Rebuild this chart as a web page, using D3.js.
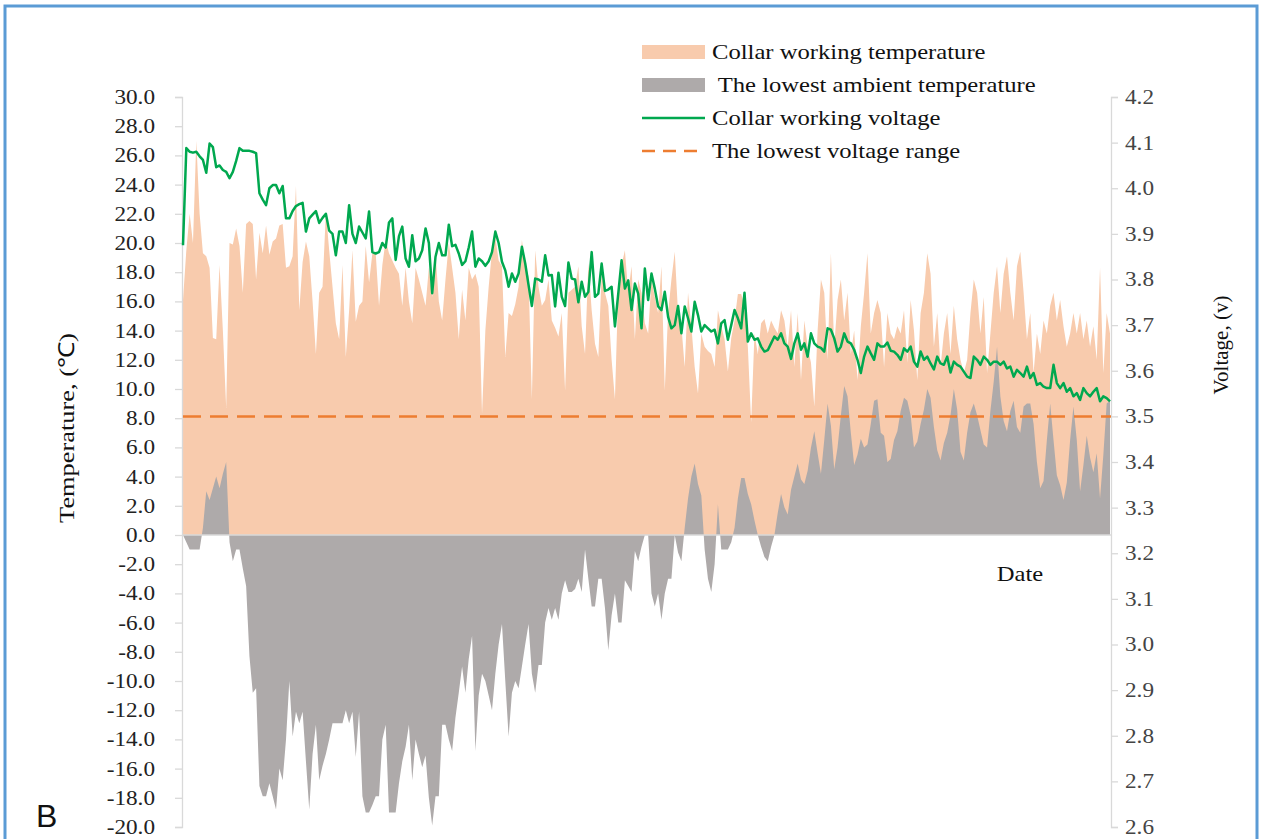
<!DOCTYPE html>
<html><head><meta charset="utf-8">
<script src="https://cdn.jsdelivr.net/npm/d3@7"></script>
<style>body{margin:0;background:#fff}svg{display:block}</style>
</head><body>
<svg id="c" width="1262" height="839"></svg>
<script>
const collarTemp = [16.1,19.5,22.0,20.0,27.0,22.0,19.3,19.1,18.3,13.5,13.4,18.5,14.0,8.7,20.0,19.9,21.0,19.8,16.6,21.3,
21.5,21.3,17.5,20.7,19.3,21.2,19.2,20.1,20.3,21.2,21.3,18.3,18.4,19.1,23.9,15.4,18.7,20.1,19.1,16.0,
12.4,16.6,17.0,22.1,19.5,17.0,14.5,13.4,18.5,12.2,15.4,19.5,14.6,15.7,16.0,19.8,17.3,19.3,19.3,15.7,
18.5,20.2,19.3,18.8,18.3,17.9,15.7,18.3,16.0,14.5,18.3,17.5,16.6,15.7,18.3,16.3,19.3,16.0,14.7,17.5,
20.0,18.3,16.6,13.4,16.8,14.7,18.3,17.5,17.9,17.0,8.3,14.0,17.0,19.5,20.4,18.8,18.4,12.2,15.2,15.0,
15.8,17.0,20.2,18.5,17.7,9.3,19.5,17.0,15.7,16.1,17.5,14.7,14.2,13.6,15.2,9.9,16.6,16.8,17.0,18.4,
14.3,12.4,18.6,15.4,13.1,12.2,17.9,16.6,15.7,12.0,9.3,17.0,18.5,19.5,16.6,18.4,13.4,17.5,16.6,14.5,
13.8,17.5,16.3,15.2,18.4,9.9,15.2,17.5,19.4,15.2,14.3,11.5,16.6,14.3,11.5,9.7,13.8,12.9,12.6,12.4,
11.5,15.4,14.3,13.4,11.2,13.5,14.7,16.5,16.5,15.7,12.9,7.7,13.8,12.4,14.5,14.8,13.8,14.7,14.2,13.8,
15.4,14.7,12.9,15.4,11.5,15.2,10.6,14.7,12.9,11.8,8.8,14.0,17.5,16.6,12.0,19.3,12.9,16.1,17.5,14.7,
16.6,12.4,14.0,10.6,14.3,16.6,19.3,13.8,15.2,16.1,15.2,11.5,15.2,13.8,13.4,14.3,13.8,15.4,11.8,16.1,
14.0,10.6,15.2,16.6,19.3,17.9,12.9,15.2,11.5,13.8,15.2,12.4,15.7,13.4,12.0,11.1,12.0,15.2,17.5,16.6,
13.8,16.3,11.1,13.8,16.6,18.4,15.2,17.9,19.1,16.6,14.7,18.4,19.4,16.6,13.4,15.2,11.1,13.8,12.4,14.7,
13.8,15.7,16.6,14.7,16.1,14.3,12.9,13.8,15.2,13.8,15.2,13.4,14.7,12.9,14.3,12.0,18.3,11.1,15.2,13.8];

const ambientTemp = [0,-0.5,-1,-1,-1,-1,0.5,3.0,2.4,3.2,4.0,3.2,4.2,5.0,-0.5,-1.8,-1,-1,-2.3,-3.5,
-8.3,-10.8,-10.5,-17.2,-17.9,-17.9,-17,-17.9,-18.8,-16,-16.8,-14,-10,-13.8,-12.1,-12.9,-12.1,-15.5,-18.8,-15,
-13,-16.8,-15.8,-15,-14,-12.9,-12.9,-12.9,-12.9,-12,-12.9,-12.1,-15.2,-12.1,-17.9,-19,-19,-18.5,-17.9,-17.9,
-14,-13,-19,-19,-19,-17,-15.5,-14.5,-13,-16.8,-14,-15,-15.9,-15.1,-18,-19.9,-17.9,-17.9,-13,-13,
-14,-14.8,-12.5,-10.8,-9,-10.8,-8.5,-6.9,-14.8,-11,-9.5,-10,-11,-12,-9.5,-7.5,-6.1,-10,-13.8,-10.8,
-10,-10.5,-9,-7.5,-6.1,-9.5,-10.8,-8.9,-8.9,-6,-5,-5.8,-5,-5.8,-4,-3.1,-3.9,-3.9,-3.7,-3,
-3.9,-1,-3,-4.9,-4.9,-3,-3,-5,-7.9,-5.5,-4,-6,-6,-3.1,-3.5,-3.9,-1.1,-1.8,-0.8,0,
0,-4,-4.9,-4,-5.8,-4,-3,-3,0,-1.2,-1.8,0.5,2.5,4.0,4.9,3.5,2.7,-1,-3,-3.9,
-2,2.1,-1,-1,-1,-0.5,0.5,2.5,3.9,3.9,2.8,2.1,1.0,0,-0.8,-1.5,-1.8,-0.8,0,1.5,
2.8,1.9,1.4,3.1,4.0,4.9,3.8,3.5,4.4,6,7.1,5.6,4.2,6.5,9.0,7.5,4.5,6.0,8.2,10.2,
9.5,7.0,4.8,5.5,6.6,6.0,6.2,7.6,9.2,9.3,7.0,6.8,5.0,5.2,6.5,7.1,8.5,9.4,9.2,8.2,
6.0,6.4,7.6,8.6,10.0,9.4,7.4,5.8,5.1,6.3,7.0,8.2,10.0,8.6,5.7,5.1,7.0,8.4,9.0,8.2,
7.2,6.2,6.0,8.5,10.5,12.9,9.5,7.8,7.1,8.5,9.2,7.4,7.0,8.8,9.0,9.0,7.6,5.0,3.2,3.7,
6.5,9.0,6.5,4.1,3.4,2.4,3.6,6.5,8.8,6.5,3.0,4.8,6.8,5.3,4.3,5.6,2.5,5.5,9.0,9.2];

const voltage = [3.875,4.088,4.08,4.078,4.08,4.07,4.062,4.034,4.098,4.09,4.046,4.05,4.04,4.036,4.022,4.036,4.06,4.088,4.082,4.082,
4.082,4.08,4.077,3.989,3.975,3.963,4.0,4.007,4.007,3.989,4.005,3.934,3.934,3.95,3.961,3.965,3.968,3.905,3.934,3.942,
3.95,3.924,3.935,3.944,3.907,3.9,3.853,3.905,3.905,3.88,3.963,3.9,3.88,3.916,3.903,3.89,3.949,3.86,3.857,3.86,
3.88,3.87,3.925,3.934,3.843,3.895,3.916,3.846,3.828,3.897,3.84,3.846,3.864,3.912,3.88,3.77,3.85,3.88,3.853,3.853,
3.92,3.873,3.876,3.857,3.832,3.84,3.87,3.905,3.828,3.846,3.84,3.83,3.84,3.86,3.905,3.88,3.839,3.82,3.784,3.813,
3.795,3.813,3.872,3.835,3.788,3.742,3.802,3.8,3.795,3.853,3.809,3.81,3.741,3.815,3.762,3.742,3.837,3.802,3.8,3.75,
3.795,3.762,3.773,3.86,3.762,3.769,3.835,3.775,3.778,3.784,3.697,3.769,3.842,3.78,3.798,3.733,3.791,3.769,3.693,3.824,
3.755,3.813,3.78,3.741,3.733,3.773,3.718,3.693,3.7,3.742,3.682,3.741,3.715,3.686,3.751,3.722,3.686,3.7,3.693,3.686,
3.69,3.66,3.704,3.711,3.668,3.7,3.733,3.715,3.693,3.771,3.664,3.682,3.668,3.671,3.653,3.642,3.645,3.66,3.675,3.668,
3.682,3.66,3.653,3.626,3.66,3.682,3.646,3.66,3.631,3.682,3.66,3.653,3.65,3.642,3.693,3.69,3.671,3.642,3.653,3.682,
3.664,3.66,3.646,3.624,3.595,3.631,3.653,3.638,3.624,3.66,3.653,3.653,3.662,3.644,3.642,3.635,3.624,3.649,3.642,3.653,
3.62,3.609,3.642,3.624,3.631,3.616,3.603,3.631,3.616,3.613,3.631,3.596,3.62,3.613,3.609,3.598,3.587,3.584,3.631,3.624,
3.613,3.631,3.624,3.613,3.62,3.62,3.613,3.62,3.605,3.609,3.587,3.602,3.595,3.587,3.609,3.584,3.595,3.569,3.573,3.565,
3.562,3.562,3.613,3.573,3.562,3.573,3.554,3.562,3.544,3.551,3.536,3.562,3.551,3.544,3.554,3.562,3.533,3.544,3.54,3.533];

const lowestVoltage = 3.5;
const tempTicks = d3.range(-20, 30.001, 2);
const voltTicks = d3.range(2.6, 4.2001, 0.1);
const legendItems = ["Collar working temperature", " The lowest ambient temperature", "Collar working voltage", "The lowest voltage range"];

const svg = d3.select("#c");
const L = 183, R = 1111, T = 97, B = 827;
const N = collarTemp.length;
const x = d3.scaleLinear().domain([0, N - 1]).range([L, R - 1]);
const yT = d3.scaleLinear().domain([-20, 30]).range([B, T]);
const yV = d3.scaleLinear().domain([2.6, 4.2]).range([B, T]);
const serif = "'Liberation Serif','Times New Roman',serif";
const stretch = (sx, ax) => `translate(${ax},0) scale(${sx},1) translate(${-ax},0)`;

// frame
svg.append("rect").attr("x", 5).attr("y", 6).attr("width", 1252).attr("height", 845)
  .attr("fill", "none").attr("stroke", "#5b9bd5").attr("stroke-width", 3);

const idx = d3.range(N);
svg.append("path").datum(idx)
  .attr("d", d3.area().x(i => x(i)).y0(yT(0)).y1(i => yT(collarTemp[i])))
  .attr("fill", "#f8cbad");
svg.append("path").datum(idx)
  .attr("d", d3.area().x(i => x(i)).y0(yT(0)).y1(i => yT(ambientTemp[i])))
  .attr("fill", "#aeaaaa");

// axes
const gL = svg.append("g").attr("transform", `translate(${L - 1},0)`)
  .call(d3.axisLeft(yT).tickValues(tempTicks).tickFormat(d => d.toFixed(1)).tickSize(7).tickPadding(20));
const gR = svg.append("g").attr("transform", `translate(${R},0)`)
  .call(d3.axisRight(yV).tickValues(voltTicks).tickFormat(d => d.toFixed(1)).tickSize(7).tickPadding(7));
[gL, gR].forEach(g => {
  g.selectAll("path.domain").attr("stroke", "#d9d9d9").attr("stroke-width", 1.3);
  g.selectAll(".tick line").attr("stroke", "#d9d9d9").attr("stroke-width", 1.3);
  g.selectAll("text").attr("font-family", serif).attr("font-size", 20).attr("fill", "#222");
});
gL.selectAll(".tick text").attr("transform", stretch(1.16, -27));
gR.selectAll(".tick text").attr("fill", "#444").attr("transform", stretch(1.16, 14));

svg.append("line").attr("x1", L).attr("x2", R).attr("y1", yT(0)).attr("y2", yT(0))
  .attr("stroke", "#d9d9d9").attr("stroke-width", 1.3);

svg.append("line").attr("x1", L).attr("x2", R).attr("y1", yV(lowestVoltage)).attr("y2", yV(lowestVoltage))
  .attr("stroke", "#ed7d31").attr("stroke-width", 2.5).attr("stroke-dasharray", "18,9");

svg.append("path").datum(idx)
  .attr("d", d3.line().x(i => x(i)).y(i => yV(voltage[i])))
  .attr("fill", "none").attr("stroke", "#00a84f").attr("stroke-width", 2.5).attr("stroke-linejoin", "round");

// legend
const lg = svg.append("g");
const ly = [52, 85, 118, 151];
lg.append("rect").attr("x", 642).attr("y", ly[0] - 7).attr("width", 63).attr("height", 14).attr("fill", "#f8cbad");
lg.append("rect").attr("x", 642).attr("y", ly[1] - 7).attr("width", 63).attr("height", 14).attr("fill", "#aeaaaa");
lg.append("line").attr("x1", 642).attr("x2", 705).attr("y1", ly[2]).attr("y2", ly[2]).attr("stroke", "#00a84f").attr("stroke-width", 2.5);
lg.append("line").attr("x1", 642).attr("x2", 705).attr("y1", ly[3]).attr("y2", ly[3]).attr("stroke", "#ed7d31").attr("stroke-width", 2.5).attr("stroke-dasharray", "13,8");
legendItems.forEach((t, k) => {
  lg.append("text").attr("x", 712).attr("y", ly[k] + 7).text(t)
    .attr("transform", stretch(1.12, 712))
    .attr("font-family", serif).attr("font-size", 22).attr("fill", "#111").style("white-space", "pre");
});

// axis titles
svg.append("text").attr("transform", "translate(74,428) rotate(-90) scale(1.2,1)").attr("text-anchor", "middle")
  .attr("font-family", serif).attr("font-size", 22).attr("fill", "#111").text("Temperature, (℃)");
svg.append("text").attr("transform", "translate(1228,345) rotate(-90)").attr("text-anchor", "middle")
  .attr("font-family", serif).attr("font-size", 21).attr("fill", "#111").text("Voltage, (v)");
svg.append("text").attr("x", 1020).attr("y", 581).attr("text-anchor", "middle")
  .attr("transform", stretch(1.12, 1020))
  .attr("font-family", serif).attr("font-size", 22).attr("fill", "#111").text("Date");
svg.append("text").attr("x", 36).attr("y", 827)
  .attr("font-family", "'Liberation Sans',Arial,sans-serif").attr("font-size", 32).attr("fill", "#111").text("B");
</script>
</body></html>
